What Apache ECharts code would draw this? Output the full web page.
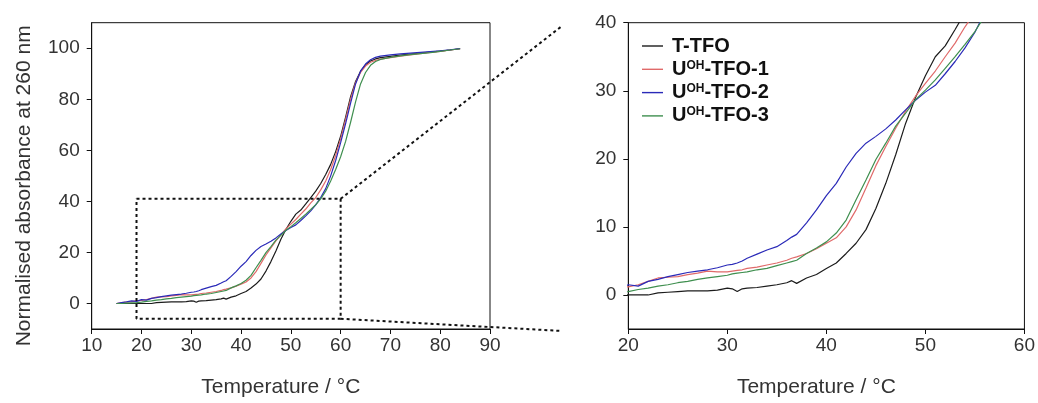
<!DOCTYPE html>
<html>
<head>
<meta charset="utf-8">
<script src="https://cdn.jsdelivr.net/npm/echarts@6/dist/echarts.min.js"></script>
<style>
  html, body { margin: 0; padding: 0; background: #ffffff; }
  #chart { width: 1038px; height: 403px; }
</style>
</head>
<body>
<div id="chart"></div>
<script>
// Melting curves: temperature (°C) and normalised absorbance at 260 nm (%)
const temps = [15, 16, 17, 18, 19, 20, 21, 22, 23, 24, 25, 26, 27, 28, 29, 30, 30.5, 31, 31.5, 32,
  33, 34, 35, 36, 36.5, 37, 38, 39, 40, 41, 42, 43, 44, 45, 46, 47, 48, 49, 50, 51, 52, 53, 54, 55,
  56, 57, 58, 59, 60, 61, 62, 63, 64, 65, 66, 67, 68, 70, 72, 74, 76, 78, 80, 82, 84];

const tTfo = [0, 0, 0, 0, 0, 0, 0, 0, 0.3, 0.4, 0.5, 0.6, 0.6, 0.6, 0.7, 1.0, 0.9, 0.5, 0.9, 1.0,
  1.1, 1.3, 1.5, 1.8, 2.1, 1.7, 2.5, 3.0, 3.9, 4.7, 6.1, 7.6, 9.6, 12.7, 16.4, 20.6, 25.2, 29.0, 32.2, 35.0, 36.6, 39.0, 41.5, 44.0,
  47.0, 50.5, 54.5, 59.5, 65.5, 73.0, 81.0, 87.0, 91.0, 93.5, 95.0, 95.8, 96.3, 96.8, 97.3, 97.7, 98.1, 98.5, 98.9, 99.3, 99.8];

const uohTfo1 = [0, 0.3, 0.5, 0.7, 1.0, 1.2, 1.5, 2.0, 2.5, 2.6, 2.7, 3.0, 3.2, 3.5, 3.4, 3.4, 3.5, 3.6, 3.7, 3.9,
  4.1, 4.4, 4.7, 5.1, 5.4, 5.6, 6.1, 6.8, 7.6, 8.4, 10.0, 12.5, 15.7, 19.0, 21.8, 24.5, 27.0, 29.2, 31.1, 32.9, 35.0, 37.0, 39.4, 41.5,
  44.5, 48.0, 52.5, 58.0, 64.5, 72.0, 80.0, 86.5, 90.5, 93.0, 94.5, 95.2, 95.7, 96.3, 96.9, 97.4, 97.9, 98.4, 98.8, 99.3, 99.8];

const uohTfo2 = [0, 0.3, 0.6, 1.0, 0.8, 1.5, 1.3, 2.0, 2.3, 2.7, 3.0, 3.3, 3.5, 3.7, 4.0, 4.4, 4.5, 4.7, 5.0, 5.4,
  6.0, 6.6, 7.1, 8.0, 8.5, 8.9, 10.6, 12.5, 14.6, 16.4, 18.8, 20.8, 22.3, 23.3, 24.4, 25.7, 27.2, 28.6, 29.8, 30.8, 32.5, 34.3, 36.3, 38.6,
  41.5, 45.0, 50.0, 56.0, 63.0, 70.5, 78.5, 86.0, 91.0, 93.8, 95.5, 96.4, 96.9, 97.4, 97.8, 98.1, 98.4, 98.7, 99.0, 99.4, 99.9];

const uohTfo3 = [0, 0, 0.1, 0.2, 0.3, 0.5, 0.8, 1.0, 1.3, 1.5, 1.8, 2.0, 2.3, 2.5, 2.7, 2.9, 3.1, 3.2, 3.3, 3.4,
  3.7, 3.9, 4.3, 4.7, 4.9, 5.1, 6.1, 6.9, 7.8, 9.1, 11.0, 14.0, 16.9, 19.9, 22.3, 24.8, 26.7, 28.7, 30.1, 31.6, 33.3, 35.0, 36.8, 38.7,
  41.0, 44.0, 48.0, 52.5, 57.5, 63.5, 71.0, 79.0, 86.0, 90.5, 93.3, 94.8, 95.6, 96.4, 97.0, 97.5, 97.9, 98.3, 98.8, 99.3, 99.8];

const seriesNames = ['T-TFO', 'UOH-TFO-1', 'UOH-TFO-2', 'UOH-TFO-3'];
const seriesValues = [tTfo, uohTfo1, uohTfo2, uohTfo3];
const seriesColors = ['#1c1c1c', '#e06a6a', '#2a2ab8', '#3f8f4f'];

// Axis ranges and tick labels
const overviewX = { min: 10, max: 90, step: 10 };
const overviewY = { min: -10, max: 110 };
const overviewYTicks = [0, 20, 40, 60, 80, 100];
const detailX = { min: 20, max: 60, step: 10 };
const detailY = { min: -5, max: 40 };
const detailYTicks = [0, 10, 20, 30, 40];

// Region of the overview enlarged in the right-hand panel
const zoomX = [19, 60];
const zoomY = [-6, 41];

const FONT = '"Liberation Sans", Arial, Helvetica, sans-serif';
const INK = '#111';
const LABEL = '#333';

const chart = echarts.init(document.getElementById('chart'), null, { renderer: 'canvas' });

function pairs(values) {
  return temps.map((t, i) => [t, values[i]]);
}

function xAxisDef(gridIndex, range) {
  return {
    type: 'value', gridIndex: gridIndex,
    min: range.min, max: range.max, interval: range.step,
    name: 'Temperature / °C', nameLocation: 'middle', nameGap: 48,
    nameTextStyle: { fontFamily: FONT, fontSize: 21, color: LABEL, padding: [0, 20, 0, 0] },
    axisLine: { onZero: false, lineStyle: { color: INK, width: 1 } },
    axisTick: { length: 5, lineStyle: { color: INK } },
    axisLabel: { margin: 7, fontFamily: FONT, fontSize: 19, color: LABEL },
    splitLine: { show: false }
  };
}

function yAxisDef(gridIndex, range, ticks, name) {
  return {
    type: 'value', gridIndex: gridIndex,
    min: range.min, max: range.max,
    name: name, nameLocation: 'middle', nameGap: 57,
    nameTextStyle: { fontFamily: FONT, fontSize: 21, color: LABEL, padding: [0, 20, 0, 0] },
    axisLine: { onZero: false, lineStyle: { color: INK, width: 1 } },
    axisTick: { length: 5, customValues: ticks, lineStyle: { color: INK } },
    axisLabel: { margin: 12, customValues: ticks, fontFamily: FONT, fontSize: 19, color: LABEL },
    splitLine: { show: false }
  };
}

const series = [];
[0, 1].forEach(g => {
  seriesNames.forEach((name, k) => {
    series.push({
      type: 'line', name: name, xAxisIndex: g, yAxisIndex: g,
      data: pairs(seriesValues[k]),
      symbol: 'none', showSymbol: false, smooth: false, clip: true,
      lineStyle: { color: seriesColors[k], width: 1.2 },
      itemStyle: { color: seriesColors[k] },
      emphasis: { disabled: true }
    });
  });
});

// Dotted frame round the enlarged region
series.push({
  type: 'line', name: 'zoom-frame', xAxisIndex: 0, yAxisIndex: 0,
  data: [[zoomX[0], zoomY[1]], [zoomX[1], zoomY[1]], [zoomX[1], zoomY[0]], [zoomX[0], zoomY[0]], [zoomX[0], zoomY[1]]],
  symbol: 'none', silent: true, clip: false, z: 3,
  lineStyle: { color: INK, width: 2, type: [3, 3] }
});

function legendLabel(name) {
  if (name.indexOf('UOH') === 0) {
    return '{f|U}{s|OH}{b|' + name.slice(3) + '}';
  }
  return '{f|' + name + '}';
}

chart.setOption({
  animation: false,
  backgroundColor: '#ffffff',
  grid: [
    { left: 91.7, top: 22.7, width: 398.3, height: 306.6, show: true, borderColor: INK, borderWidth: 1, containLabel: false },
    { left: 628.3, top: 22.7, width: 398.4, height: 307.3, show: true, borderColor: INK, borderWidth: 1, containLabel: false }
  ],
  xAxis: [xAxisDef(0, overviewX), xAxisDef(1, detailX)],
  yAxis: [
    yAxisDef(0, overviewY, overviewYTicks, 'Normalised absorbance at 260 nm'),
    yAxisDef(1, detailY, detailYTicks, '')
  ],
  legend: {
    data: seriesNames.map((name, k) => ({ name: name, icon: 'rect', itemStyle: { color: seriesColors[k] } })),
    orient: 'vertical', left: 642, top: 36, padding: 0,
    itemWidth: 21, itemHeight: 1.4, itemGap: 3.3,
    selectedMode: false,
    formatter: legendLabel,
    textStyle: {
      fontFamily: FONT, fontSize: 20, fontWeight: 'bold', color: INK, lineHeight: 20,
      rich: {
        f: { fontFamily: FONT, fontSize: 20, fontWeight: 'bold', color: INK, padding: [0, 0, 0, 4] },
        b: { fontFamily: FONT, fontSize: 20, fontWeight: 'bold', color: INK },
        s: { fontFamily: FONT, fontSize: 12, fontWeight: 'bold', color: INK, verticalAlign: 'top' }
      }
    }
  },
  series: series
});

// Dotted guide lines from the framed region towards the enlarged panel
const cornerTop = chart.convertToPixel({ gridIndex: 0 }, [zoomX[1], zoomY[1]]);
const cornerBottom = chart.convertToPixel({ gridIndex: 0 }, [zoomX[1], zoomY[0]]);
const panelTop = chart.convertToPixel({ gridIndex: 1 }, [detailX.min, detailY.max]);
const panelBottom = chart.convertToPixel({ gridIndex: 1 }, [detailX.min, detailY.min]);
const guideStyle = { stroke: INK, lineWidth: 2, lineDash: [3, 3] };

chart.setOption({
  graphic: [
    { type: 'line', silent: true, z: 5,
      shape: { x1: cornerTop[0], y1: cornerTop[1], x2: panelTop[0] - 66, y2: panelTop[1] + 3 },
      style: guideStyle },
    { type: 'line', silent: true, z: 5,
      shape: { x1: cornerBottom[0], y1: cornerBottom[1], x2: panelBottom[0] - 66, y2: panelBottom[1] + 2 },
      style: guideStyle }
  ]
});
</script>
</body>
</html>
